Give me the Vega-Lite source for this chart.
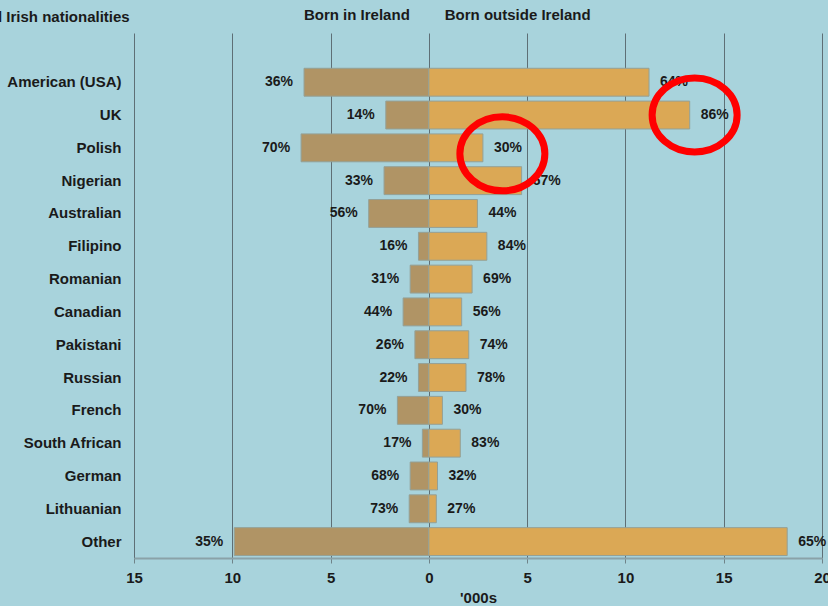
{
  "$schema": "https://vega.github.io/schema/vega-lite/v6.json",
  "width": 688,
  "height": 525,
  "autosize": {"type": "none"},
  "padding": {"left": 134, "top": 33, "right": 6, "bottom": 48},
  "background": "#a8d3dc",
  "config": {"view": {"stroke": null}, "font": "Liberation Sans"},
  "data": {
    "values": [
      {"nationality": "American (USA)", "born_in": 6.35, "born_out": 11.2, "pct_in": "36%", "pct_out": "64%"},
      {"nationality": "UK", "born_in": 2.19, "born_out": 13.27, "pct_in": "14%", "pct_out": "86%"},
      {"nationality": "Polish", "born_in": 6.5, "born_out": 2.75, "pct_in": "70%", "pct_out": "30%"},
      {"nationality": "Nigerian", "born_in": 2.28, "born_out": 4.72, "pct_in": "33%", "pct_out": "67%"},
      {"nationality": "Australian", "born_in": 3.06, "born_out": 2.47, "pct_in": "56%", "pct_out": "44%"},
      {"nationality": "Filipino", "born_in": 0.53, "born_out": 2.95, "pct_in": "16%", "pct_out": "84%"},
      {"nationality": "Romanian", "born_in": 0.95, "born_out": 2.2, "pct_in": "31%", "pct_out": "69%"},
      {"nationality": "Canadian", "born_in": 1.31, "born_out": 1.67, "pct_in": "44%", "pct_out": "56%"},
      {"nationality": "Pakistani", "born_in": 0.71, "born_out": 2.03, "pct_in": "26%", "pct_out": "74%"},
      {"nationality": "Russian", "born_in": 0.53, "born_out": 1.89, "pct_in": "22%", "pct_out": "78%"},
      {"nationality": "French", "born_in": 1.6, "born_out": 0.69, "pct_in": "70%", "pct_out": "30%"},
      {"nationality": "South African", "born_in": 0.33, "born_out": 1.6, "pct_in": "17%", "pct_out": "83%"},
      {"nationality": "German", "born_in": 0.95, "born_out": 0.44, "pct_in": "68%", "pct_out": "32%"},
      {"nationality": "Lithuanian", "born_in": 1.0, "born_out": 0.38, "pct_in": "73%", "pct_out": "27%"},
      {"nationality": "Other", "born_in": 9.9, "born_out": 18.23, "pct_in": "35%", "pct_out": "65%"}
    ]
  },
  "transform": [{"calculate": "-datum.born_in", "as": "born_in_neg"}],
  "encoding": {
    "y": {
      "field": "nationality",
      "type": "nominal",
      "title": null,
      "scale": {
        "domain": [" ", "American (USA)", "UK", "Polish", "Nigerian", "Australian", "Filipino", "Romanian", "Canadian", "Pakistani", "Russian", "French", "South African", "German", "Lithuanian", "Other"],
        "paddingInner": 0.15,
        "paddingOuter": 0.075
      },
      "axis": {
        "domain": false,
        "ticks": false,
        "labelPadding": 13,
        "labelFont": "Liberation Sans",
        "labelFontSize": 15,
        "labelFontWeight": "bold",
        "labelColor": "#1a1a1a"
      }
    }
  },
  "layer": [
    {
      "mark": {"type": "bar", "color": "#b09465", "stroke": "#94a096", "strokeWidth": 1},
      "encoding": {
        "x": {
          "field": "born_in_neg",
          "type": "quantitative",
          "scale": {"domain": [-15, 20], "nice": false, "zero": false},
          "axis": {
            "values": [-15, -10, -5, 0, 5, 10, 15, 20],
            "labelExpr": "'' + abs(datum.value)",
            "grid": true,
            "gridColor": "#5e6f76",
            "gridOpacity": 1,
            "domainColor": "#8aa2a8",
            "domainWidth": 2,
            "tickColor": "#6f8389",
            "tickSize": 5,
            "labelFont": "Liberation Sans",
            "labelFontSize": 15,
            "labelFontWeight": "bold",
            "labelColor": "#1a1a1a",
            "labelPadding": 7,
            "labelFlush": false,
            "title": "'000s",
            "titleFont": "Liberation Sans",
            "titleFontSize": 15,
            "titleFontWeight": "bold",
            "titleColor": "#1a1a1a",
            "titlePadding": 5
          }
        },
        "x2": {"datum": 0}
      }
    },
    {
      "mark": {"type": "bar", "color": "#dba855", "stroke": "#94a096", "strokeWidth": 1},
      "encoding": {
        "x": {"field": "born_out", "type": "quantitative"},
        "x2": {"datum": 0}
      }
    },
    {
      "mark": {"type": "text", "align": "right", "baseline": "middle", "dx": -11, "font": "Liberation Sans", "fontSize": 14, "fontWeight": "bold", "color": "#1a1a1a"},
      "encoding": {
        "x": {"field": "born_in_neg", "type": "quantitative"},
        "text": {"field": "pct_in"}
      }
    },
    {
      "mark": {"type": "text", "align": "left", "baseline": "middle", "dx": 11, "font": "Liberation Sans", "fontSize": 14, "fontWeight": "bold", "color": "#1a1a1a"},
      "encoding": {
        "x": {"field": "born_out", "type": "quantitative"},
        "text": {"field": "pct_out"}
      }
    },
    {
      "mark": {"type": "rule", "color": "#222222", "strokeWidth": 1},
      "encoding": {"x": {"datum": 0}}
    },
    {
      "data": {"values": [{"header": "Born in Ireland", "pos": -0.97}]},
      "mark": {"type": "text", "align": "right", "baseline": "alphabetic", "font": "Liberation Sans", "fontSize": 15, "fontWeight": "bold", "color": "#1a1a1a"},
      "encoding": {
        "x": {"field": "pos", "type": "quantitative"},
        "y": {"value": -13},
        "text": {"field": "header"}
      }
    },
    {
      "data": {"values": [{"header": "Born outside Ireland", "pos": 0.81}]},
      "mark": {"type": "text", "align": "left", "baseline": "alphabetic", "font": "Liberation Sans", "fontSize": 15, "fontWeight": "bold", "color": "#1a1a1a"},
      "encoding": {
        "x": {"field": "pos", "type": "quantitative"},
        "y": {"value": -13},
        "text": {"field": "header"}
      }
    },
    {
      "data": {"values": [{"header": "Dual Irish nationalities", "pos": -23.36}]},
      "mark": {"type": "text", "align": "left", "baseline": "alphabetic", "font": "Liberation Sans", "fontSize": 15, "fontWeight": "bold", "color": "#1a1a1a"},
      "encoding": {
        "x": {"field": "pos", "type": "quantitative"},
        "y": {"value": -11},
        "text": {"field": "header"}
      }
    },
    {
      "data": {"values": [{"nationality": "UK", "pos": 13.52}]},
      "mark": {"type": "point", "shape": "M -1 0 A 1 0.87 0 1 1 1 0 A 1 0.87 0 1 1 -1 0 Z", "size": 7225, "filled": false, "stroke": "#ff0000", "strokeWidth": 7, "opacity": 1},
      "encoding": {
        "x": {"field": "pos", "type": "quantitative"},
        "y": {"field": "nationality", "type": "nominal"}
      }
    },
    {
      "data": {"values": [{"nationality": "Polish", "pos": 3.74}]},
      "mark": {"type": "point", "shape": "M -1 0 A 1 0.87 0 1 1 1 0 A 1 0.87 0 1 1 -1 0 Z", "size": 7225, "filled": false, "stroke": "#ff0000", "strokeWidth": 7, "opacity": 1, "yOffset": 6},
      "encoding": {
        "x": {"field": "pos", "type": "quantitative"},
        "y": {"field": "nationality", "type": "nominal"}
      }
    }
  ]
}
